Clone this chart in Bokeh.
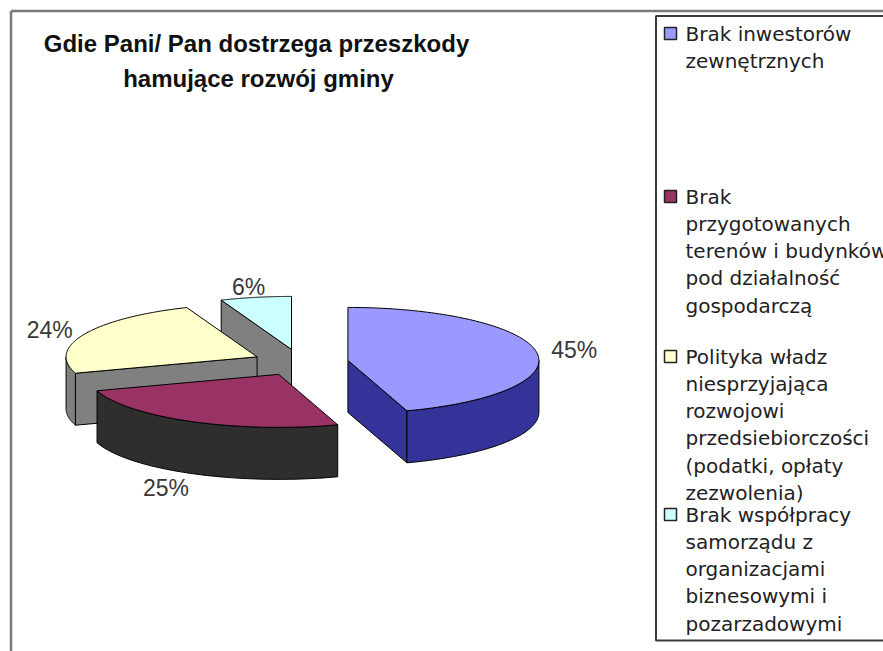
import numpy as np
from bokeh.plotting import figure
from bokeh.models import Range1d
from bokeh.core.properties import value
from bokeh.embed import file_html
from bokeh.resources import INLINE

# ---------------- data ----------------
title_lines = ["Gdie Pani/ Pan dostrzega przeszkody", "hamujące rozwój gminy"]
categories = [
    "Brak inwestorów zewnętrznych",
    "Brak przygotowanych terenów i budynków pod działalność gospodarczą",
    "Polityka władz niesprzyjająca rozwojowi przedsiebiorczości (podatki, opłaty zezwolenia)",
    "Brak współpracy samorządu z organizacjami biznesowymi i pozarzadowymi",
]
legend_lines = [
    ["Brak inwestorów", "zewnętrznych"],
    ["Brak", "przygotowanych", "terenów i budynków", "pod działalność", "gospodarczą"],
    ["Polityka władz", "niesprzyjająca", "rozwojowi", "przedsiebiorczości",
     "(podatki, opłaty", "zezwolenia)"],
    ["Brak współpracy", "samorządu z", "organizacjami", "biznesowymi i", "pozarzadowymi"],
]
shares = [45, 25, 24, 6]
pct_labels = ["45%", "25%", "24%", "6%"]

# ---------------- styles / layout ----------------
top_colors = ["#9999FF", "#993366", "#FFFFCC", "#CCFFFF"]
side_colors = ["#333399", "#2E2E2E", "#808080", "#808080"]
W, H = 883, 651
CX, CY = 300.0, 362.0      # pie centre (page px)
RX, RY = 191.0, 53.0       # ellipse radii
DEPTH = 52.0
EXPLODE = 48.0

p = figure(width=W, height=H, output_backend="svg", toolbar_location=None,
           x_range=Range1d(0, W), y_range=Range1d(H, 0),
           min_border=0, background_fill_color="white", border_fill_color="white")
p.axis.visible = False
p.grid.visible = False
p.outline_line_color = None

# outer frame
p.segment(x0=[10.5, 10.5], y0=[10.5, 10.5], x1=[10.5, 900], y1=[700, 10.5],
          line_color="#7a7a7a", line_width=2.5)

# ---------------- 3D pie ----------------
total = float(sum(shares))
starts = np.cumsum([0] + shares[:-1]) / total * 360.0
ends = np.cumsum(shares) / total * 360.0


def rim(cx, cy, ang):
    a = np.radians(ang)
    return cx + RX * np.sin(a), cy - RY * np.cos(a)


slices = []
for i, (a0, a1) in enumerate(zip(starts, ends)):
    mid = np.radians((a0 + a1) / 2)
    ox = EXPLODE * np.sin(mid)
    oy = -EXPLODE * np.cos(mid) * RY / RX
    slices.append((CY + oy, i, a0, a1, CX + ox, CY + oy))

slices.sort()
for _, i, a0, a1, cx, cy in slices:
    side_xs, side_ys = [], []
    # radial face at start angle
    if np.sin(np.radians(a0)) < -1e-9:
        rx_, ry_ = rim(cx, cy, a0)
        side_xs.append([cx, rx_, rx_, cx])
        side_ys.append([cy, ry_, ry_ + DEPTH, cy + DEPTH])
    # radial face at end angle
    if np.sin(np.radians(a1)) > 1e-9:
        rx_, ry_ = rim(cx, cy, a1)
        side_xs.append([cx, rx_, rx_, cx])
        side_ys.append([cy, ry_, ry_ + DEPTH, cy + DEPTH])
    # curved outer wall (front half only)
    w0, w1 = max(a0, 90.0), min(a1, 270.0)
    if w1 > w0:
        t = np.linspace(w0, w1, 80)
        xs_, ys_ = rim(cx, cy, t)
        side_xs.append(list(xs_) + list(xs_[::-1]))
        side_ys.append(list(ys_) + list(ys_[::-1] + DEPTH))
    if side_xs:
        p.patches(side_xs, side_ys, fill_color=side_colors[i], line_color="black",
                  line_width=1)
    t = np.linspace(a0, a1, 120)
    xs_, ys_ = rim(cx, cy, t)
    p.patch([cx] + list(xs_), [cy] + list(ys_), fill_color=top_colors[i],
            line_color="black", line_width=1)

    # percentage label
    mid = (a0 + a1) / 2
    k = 1.2 if np.cos(np.radians(mid)) >= 0 else 1.3
    lx = cx + k * RX * np.sin(np.radians(mid))
    ly = cy - k * RY * np.cos(np.radians(mid))
    if np.cos(np.radians(mid)) < 0:
        ly += DEPTH
    p.text(x=[lx], y=[ly], text=[pct_labels[i]], text_font=value("Liberation Sans"),
           text_font_size="23px", text_color="#383838", text_align="center",
           text_baseline="middle")

# ---------------- title ----------------
p.text(x=[256, 258], y=[43, 78], text=title_lines, text_font=value("Liberation Sans"),
       text_font_style="bold", text_font_size="24px", text_color="#111111",
       text_align="center", text_baseline="middle")

# ---------------- legend ----------------
p.quad(left=[655.5], right=[900], top=[15.5], bottom=[640], fill_color="white",
       line_color="#3a3a3a", line_width=2)
entry_y = [33, 196, 356, 514]
LINE = 27.3
for i, lines in enumerate(legend_lines):
    y0 = entry_y[i]
    p.rect(x=[670], y=[y0], width=12, height=12, fill_color=top_colors[i],
           line_color="#222222", line_width=1.5)
    p.text(x=[685] * len(lines), y=[y0 + LINE * k for k in range(len(lines))], text=lines,
           text_font=value("DejaVu Sans"), text_font_size="20px", text_color="#222222",
           text_align="left", text_baseline="middle")

open("out.html", "w").write(file_html(p, INLINE))
